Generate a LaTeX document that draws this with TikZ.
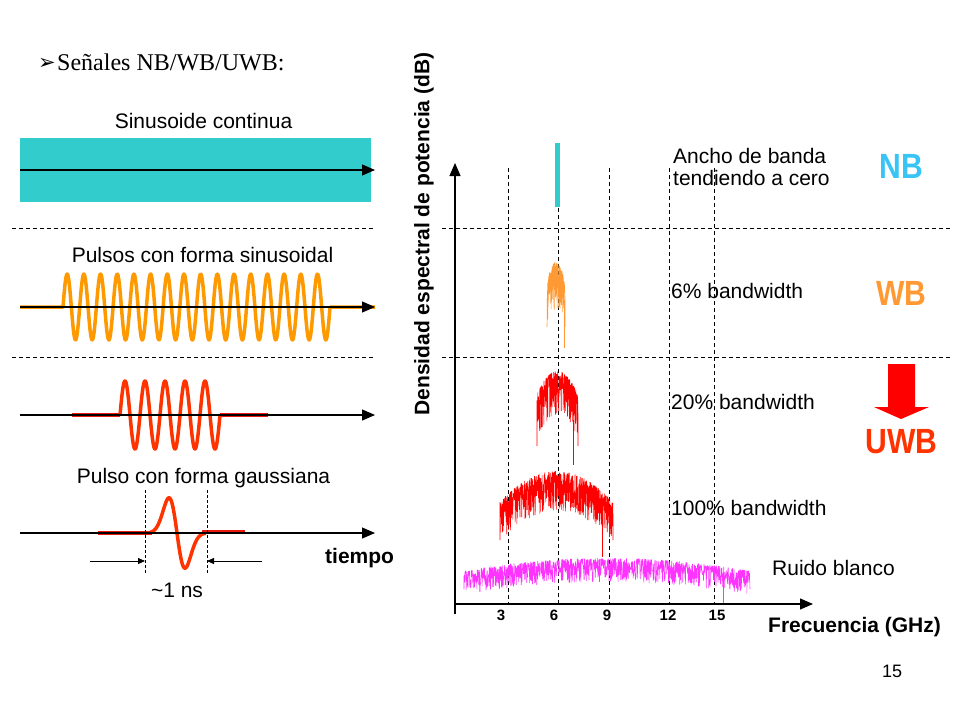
\documentclass[tikz,border=0pt]{standalone}
\usepackage{fontspec}
\setmainfont{Liberation Serif}
\setsansfont{Liberation Sans}
\newfontfamily\symfont{DejaVu Sans}
\usetikzlibrary{arrows.meta,positioning}
\definecolor{nbcyan}{HTML}{33CCCC}
\definecolor{wvorange}{HTML}{FF9900}
\definecolor{wvred}{HTML}{FF3300}
\definecolor{flatred}{HTML}{E8180C}
\definecolor{specred}{HTML}{FF0000}
\definecolor{noisemag}{HTML}{FF33FF}
\definecolor{nbblue}{HTML}{38C5F5}
\definecolor{wbor}{HTML}{FF9933}
\definecolor{uwbred}{HTML}{FF3300}
\tikzset
{
    txt/.style  = {font=\sffamily\fontsize{21}{25}\selectfont, inner sep=0pt},
    btxt/.style = {font=\sffamily\bfseries\fontsize{21}{25}\selectfont, inner sep=0pt},
    tick/.style = {font=\sffamily\bfseries\fontsize{15}{17}\selectfont, inner sep=0pt, anchor=base},
    band/.style = {font=\sffamily\bfseries\fontsize{35}{35}\selectfont, inner sep=0pt, anchor=base, xscale=0.86},
    axisarrow/.style = {-{Triangle[length=13pt,width=11pt]}, line width=1.1pt},
    dimarrow/.style  = {-{Triangle[length=7pt,width=6pt]}, line width=0.8pt},
    sep/.style  = {dash pattern=on 4pt off 3pt, line width=0.9pt},
    grid/.style = {dash pattern=on 4pt off 3pt, line width=0.9pt},
    wave/.style = {line width=3.5pt, line join=round}
}
\newcommand{\drawspec}[8]{%
  \draw[#1, line width=0.55pt, line join=bevel]
    (#2,#5+#7) -- plot[variable=\t, domain=#2:#3, samples=#8]
      (\t, {#4+(#5-#4)*pow((2*\t-#2-#3)/(#3-#2),2)+#6*pow(rnd,1.6)})
    -- (#3,#5+#7);
}
\begin{document}
\begin{tikzpicture}[x=1pt, y=-1pt]
\useasboundingbox (0,0) rectangle (960,720);
\pgfmathsetseed{11}
\node[inner sep=0pt, anchor=base west, font=\symfont\fontsize{21}{21}\selectfont] (bullet) at (38,69) {➢};
\node[inner sep=0pt, anchor=base west, font=\rmfamily\fontsize{24}{28}\selectfont] (title) at (57,70) {Señales NB/WB/UWB:};

\node[txt, anchor=base] (sc) at (203.5,128) {Sinusoide continua};
\fill[nbcyan] (20,138) rectangle (371,202);
\coordinate (a0) at (20,170);
\coordinate (a1) at (375,170);
\draw[axisarrow] (a0) -- (a1);
\draw[sep] (12,228) -- (375,228);

\node[txt, anchor=base] (ps) at (202.5,262) {Pulsos con forma sinusoidal};
\draw[wave, wvorange] (20,307) -- (63,307)
  -- plot[domain=63:330, samples=500] (\x, {307-33*sin(21.573*(\x-63))}) -- (375,307);
\coordinate (b0) at (20,307);
\coordinate (b1) at (375,307);
\draw[axisarrow] (b0) -- (b1);
\draw[sep] (12,357) -- (375,357);

\draw[wave, flatred] (72,415) -- (120,415);
\draw[wave, flatred] (220,415) -- (268,415);
\draw[wave, wvred] (120,415)
  -- plot[domain=120:220, samples=300] (\x, {415-34*sin(18*(\x-120))});
\coordinate (c0) at (20,415);
\coordinate (c1) at (375,415);
\draw[axisarrow] (c0) -- (c1);

\node[txt, anchor=base] (pg) at (203.5,483) {Pulso con forma gaussiana};
\draw[wave, flatred] (98,533) -- (152,533);
\draw[wave, flatred] (202,532) -- (245,532);
\draw[wave, wvred] plot[domain=150:206, samples=150]
  (\x, {533-82*((177-\x)/11.3)*exp(-((\x-177)/11.3)*((\x-177)/11.3))});
\coordinate (g0) at (20,533);
\coordinate (g1) at (375,533);
\draw[axisarrow] (g0) -- (g1);
\draw[dash pattern=on 3pt off 2pt, line width=0.7pt] (145,490) -- (145,573);
\draw[dash pattern=on 3pt off 2pt, line width=0.7pt] (207,490) -- (207,573);
\coordinate (dl) at (90,561);
\coordinate (dlm) at (145,561);
\coordinate (dr) at (262,561);
\coordinate (drm) at (207,561);
\draw[dimarrow] (dl) -- (dlm);
\draw[dimarrow] (dr) -- (drm);
\node[txt, anchor=base] (ns) at (177,597) {\textasciitilde 1 ns};
\node[btxt, anchor=base west] (tm) at (325,563) {tiempo};

\node[btxt, rotate=90] (ylab) at (424,234) {Densidad espectral de potencia (dB)};
\draw[sep] (442,228) -- (950,228);
\draw[sep] (442,357) -- (950,357);
\foreach \x in {508,609,669,714}
  \draw[grid] (\x,168) -- (\x,604);
\draw[grid] (558,208) -- (558,604);

\fill[nbcyan] (555,143) rectangle (560,207);
\drawspec{wbor}{547}{565}{262}{282}{48}{45}{160}
\draw[wbor, line width=0.7pt] (564,300) -- (564,348);
\drawspec{specred}{537}{578}{371}{394}{44}{52}{260}
\draw[specred, line width=0.7pt] (573,420) -- (573,465);
\drawspec{specred}{500}{613}{471}{502}{40}{38}{650}
\draw[specred, line width=0.7pt] (602,510) -- (602,557);
\drawspec{noisemag}{464}{750}{558}{571}{24}{18}{1200}
\draw[noisemag, line width=0.7pt] (723,580) -- (723,603);

\coordinate (o) at (455,614);
\coordinate (ytop) at (455,163);
\coordinate (xo) at (455,604);
\coordinate (xend) at (813,604);
\draw[axisarrow] (o) -- (ytop);
\draw[axisarrow] (xo) -- (xend);
\foreach \f/\x in {3/501,6/554,9/607,12/668,15/717}
  \node[tick] (t\f) at (\x,620) {\f};
\node[btxt, anchor=base west] (fq) at (768,632) {Frecuencia (GHz)};

\node[txt, anchor=base west] (nba) at (673,163) {Ancho de banda};
\node[txt, anchor=base west] (nbb) at ([yshift=-22pt]nba.base west) {tendiendo a cero};
\node[txt, anchor=base west] (wbl) at (671,298) {6\% bandwidth};
\node[txt, anchor=base west] (u20) at (671,409) {20\% bandwidth};
\node[txt, anchor=base west] (u100) at (671,515) {100\% bandwidth};
\node[txt, anchor=base west] (rb) at (772,575) {Ruido blanco};

\node[band, text=nbblue] (nb) at (901.5,178) {NB};
\node[band, text=wbor] (wb) at (901.5,305) {WB};
\fill[specred] (888,364) -- (915,364) -- (915,407) -- (929,407) -- (901,419)
  -- (874,407) -- (888,407) -- cycle;
\node[band, text=uwbred] (uwb) at (901.5,453) {UWB};

\node[inner sep=0pt, anchor=base, font=\sffamily\fontsize{18}{20}\selectfont] (pg15) at (892,677) {15};
\end{tikzpicture}
\end{document}
